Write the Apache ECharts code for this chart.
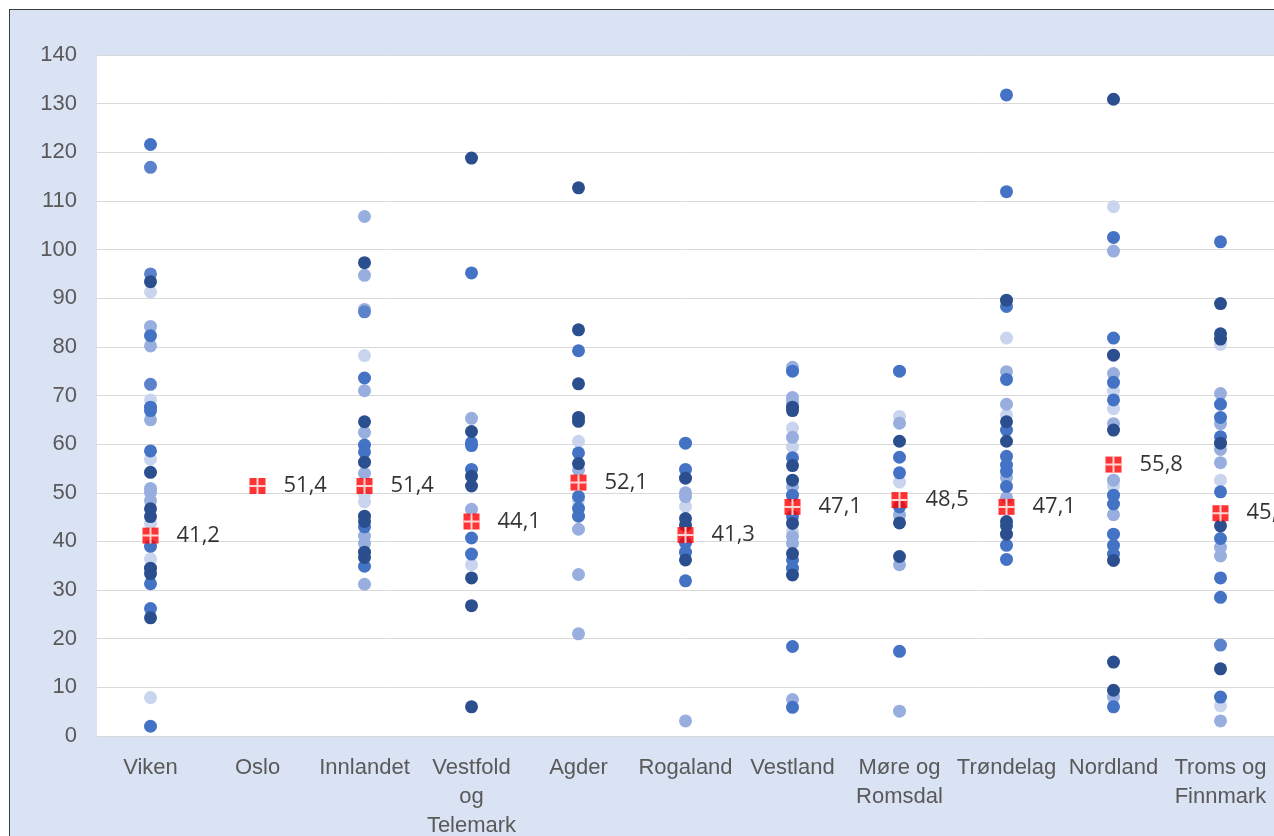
<!DOCTYPE html>
<html><head><meta charset="utf-8">
<script src="https://cdn.jsdelivr.net/npm/echarts@6/dist/echarts.min.js"></script>
<style>
html,body{margin:0;padding:0;background:#ffffff;width:1274px;height:836px;overflow:hidden;}
#frame{position:absolute;left:9px;top:9px;width:1280px;height:840px;border:1.5px solid #3a3a3a;background:#dae3f3;}
#chart{position:absolute;left:0;top:0;width:1274px;height:836px;}
</style></head>
<body><div id="frame"></div><div id="chart"></div>
<script>
const categories = ["Viken","Oslo","Innlandet","Vestfold og Telemark","Agder","Rogaland","Vestland","Møre og Romsdal","Trøndelag","Nordland","Troms og Finnmark"];
const categoryLabels = ["Viken","Oslo","Innlandet","Vestfold\nog\nTelemark","Agder","Rogaland","Vestland","Møre og\nRomsdal","Trøndelag","Nordland","Troms og\nFinnmark"];
const yTicks = [0,10,20,30,40,50,60,70,80,90,100,110,120,130,140];
const averages = [41.2, 51.4, 51.4, 44.1, 52.1, 41.3, 47.1, 48.5, 47.1, 55.8, 45.8];

// municipalities grouped by shade: [category, value]
const faintPoints = [
 ["Viken",91.3],["Viken",69.1],["Viken",56.9],["Viken",43.7],["Viken",36.4],["Viken",7.9],
 ["Innlandet",78.2],["Innlandet",49.6],["Innlandet",48.1],
 ["Vestfold og Telemark",35.2],
 ["Agder",60.6],["Agder",48.4],
 ["Rogaland",47.2],
 ["Vestland",63.3],["Vestland",59.4],["Vestland",42.0],
 ["Møre og Romsdal",65.7],["Møre og Romsdal",52.2],
 ["Trøndelag",81.8],["Trøndelag",66.0],
 ["Nordland",108.8],["Nordland",70.9],["Nordland",67.3],["Nordland",51.3],
 ["Troms og Finnmark",80.5],["Troms og Finnmark",52.6],["Troms og Finnmark",6.2]
];
const palePoints = [
 ["Viken",84.2],["Viken",80.2],["Viken",65.0],["Viken",50.9],["Viken",50.1],["Viken",48.4],
 ["Innlandet",106.8],["Innlandet",94.7],["Innlandet",87.7],["Innlandet",71.0],["Innlandet",62.4],["Innlandet",54.0],["Innlandet",41.1],["Innlandet",39.6],["Innlandet",31.2],
 ["Vestfold og Telemark",65.3],["Vestfold og Telemark",46.6],
 ["Agder",54.7],["Agder",42.5],["Agder",33.2],["Agder",21.0],
 ["Rogaland",50.0],["Rogaland",49.2],["Rogaland",3.1],
 ["Vestland",75.8],["Vestland",69.6],["Vestland",68.6],["Vestland",61.4],["Vestland",51.2],["Vestland",41.0],["Vestland",39.6],["Vestland",7.5],
 ["Møre og Romsdal",64.3],["Møre og Romsdal",45.4],["Møre og Romsdal",35.2],["Møre og Romsdal",5.1],
 ["Trøndelag",74.9],["Trøndelag",68.2],["Trøndelag",53.1],["Trøndelag",49.0],
 ["Nordland",99.7],["Nordland",74.5],["Nordland",64.2],["Nordland",52.6],["Nordland",45.5],["Nordland",8.0],
 ["Troms og Finnmark",70.4],["Troms og Finnmark",64.2],["Troms og Finnmark",58.9],["Troms og Finnmark",56.2],["Troms og Finnmark",38.8],["Troms og Finnmark",37.0],["Troms og Finnmark",3.1]
];
const lightPoints = [
 ["Viken",116.9],["Viken",95.0],["Viken",72.3],
 ["Innlandet",87.2],
 ["Troms og Finnmark",18.7]
];
const midPoints = [
 ["Viken",121.6],["Viken",82.3],["Viken",67.6],["Viken",66.9],["Viken",58.6],["Viken",39.0],["Viken",31.3],["Viken",26.2],["Viken",2.0],
 ["Innlandet",73.6],["Innlandet",59.8],["Innlandet",58.4],["Innlandet",43.0],["Innlandet",34.9],
 ["Vestfold og Telemark",95.2],["Vestfold og Telemark",60.3],["Vestfold og Telemark",59.7],["Vestfold og Telemark",54.8],["Vestfold og Telemark",40.7],["Vestfold og Telemark",37.4],
 ["Agder",79.2],["Agder",58.2],["Agder",49.2],["Agder",46.8],["Agder",45.2],
 ["Rogaland",60.2],["Rogaland",54.8],["Rogaland",39.7],["Rogaland",37.8],["Rogaland",31.9],
 ["Vestland",75.0],["Vestland",57.2],["Vestland",49.5],["Vestland",45.1],["Vestland",36.2],["Vestland",34.5],["Vestland",18.4],["Vestland",5.9],
 ["Møre og Romsdal",75.0],["Møre og Romsdal",57.3],["Møre og Romsdal",54.1],["Møre og Romsdal",47.1],["Møre og Romsdal",17.4],
 ["Trøndelag",131.8],["Trøndelag",111.9],["Trøndelag",88.3],["Trøndelag",73.3],["Trøndelag",62.9],["Trøndelag",57.5],["Trøndelag",55.7],["Trøndelag",54.4],["Trøndelag",51.3],["Trøndelag",39.2],["Trøndelag",36.3],
 ["Nordland",102.5],["Nordland",81.8],["Nordland",72.7],["Nordland",69.1],["Nordland",49.5],["Nordland",47.7],["Nordland",41.5],["Nordland",39.2],["Nordland",37.4],["Nordland",6.0],
 ["Troms og Finnmark",101.6],["Troms og Finnmark",68.2],["Troms og Finnmark",65.5],["Troms og Finnmark",61.5],["Troms og Finnmark",50.2],["Troms og Finnmark",40.6],["Troms og Finnmark",32.5],["Troms og Finnmark",28.5],["Troms og Finnmark",8.0]
];
const darkPoints = [
 ["Viken",93.4],["Viken",54.2],["Viken",46.7],["Viken",45.1],["Viken",34.5],["Viken",33.4],["Viken",24.3],
 ["Innlandet",97.3],["Innlandet",64.6],["Innlandet",56.3],["Innlandet",45.2],["Innlandet",44.1],["Innlandet",37.8],["Innlandet",36.7],
 ["Vestfold og Telemark",118.8],["Vestfold og Telemark",62.6],["Vestfold og Telemark",53.4],["Vestfold og Telemark",51.4],["Vestfold og Telemark",32.5],["Vestfold og Telemark",26.8],["Vestfold og Telemark",6.0],
 ["Agder",112.7],["Agder",83.5],["Agder",72.4],["Agder",65.5],["Agder",64.7],["Agder",56.0],
 ["Rogaland",53.0],["Rogaland",44.7],["Rogaland",43.3],["Rogaland",36.2],
 ["Vestland",67.6],["Vestland",66.9],["Vestland",55.6],["Vestland",52.6],["Vestland",43.7],["Vestland",37.5],["Vestland",33.1],
 ["Møre og Romsdal",60.6],["Møre og Romsdal",43.8],["Møre og Romsdal",36.9],
 ["Trøndelag",89.6],["Trøndelag",64.6],["Trøndelag",60.6],["Trøndelag",44.1],["Trøndelag",43.2],["Trøndelag",41.5],
 ["Nordland",130.9],["Nordland",78.3],["Nordland",62.9],["Nordland",36.1],["Nordland",15.2],["Nordland",9.4],
 ["Troms og Finnmark",88.9],["Troms og Finnmark",82.7],["Troms og Finnmark",81.6],["Troms og Finnmark",60.2],["Troms og Finnmark",43.2],["Troms og Finnmark",13.8]
];

const dotSeries = (data, color) => ({
  type:'scatter', data: data, symbol:'circle', symbolSize:13,
  itemStyle:{color: color, opacity:1}, silent:true, z:2
});

const chart = echarts.init(document.getElementById('chart'), null, {renderer:'canvas'});
chart.setOption({
  animation:false,
  backgroundColor:'transparent',
  grid:{left:97, top:55, right:0, bottom:100, show:true, backgroundColor:'#ffffff', borderWidth:0,
        containLabel:false, outerBoundsMode:'none'},
  xAxis:{
    type:'category', data: categories, boundaryGap:true,
    axisLine:{show:true, lineStyle:{color:'#d9d9d9', width:1}},
    axisTick:{show:false},
    axisLabel:{
      interval:0, margin:17, color:'#595959', fontFamily:'Liberation Sans', fontSize:22, lineHeight:29,
      formatter:(v, i) => categoryLabels[i]
    },
    splitLine:{show:false}
  },
  yAxis:{
    type:'value', min:yTicks[0], max:yTicks[yTicks.length-1], interval:10,
    axisLine:{show:false}, axisTick:{show:false},
    axisLabel:{margin:20, color:'#595959', fontFamily:'Liberation Sans', fontSize:22},
    splitLine:{show:true, lineStyle:{color:'#d9d9d9', width:1}}
  },
  series:[
    dotSeries(faintPoints, '#c9d5ee'),
    dotSeries(palePoints, '#98aedf'),
    dotSeries(lightPoints, '#5c82cc'),
    dotSeries(midPoints, '#4472c4'),
    dotSeries(darkPoints, '#2b4f8e'),
    {
      type:'scatter', data: categories.map((c,i)=>[c, averages[i]]), symbol:'rect', symbolSize:16,
      itemStyle:{color:'#ff0000'}, z:5,
      label:{show:true, position:'right', distance:18, color:'#000000', fontFamily:'Open Sans', fontSize:22,
        formatter:(p)=> String(p.value[1].toFixed(1)).replace('.', ',')}
    },
    {
      type:'scatter', data: categories.map((c,i)=>[c, averages[i]]),
      symbol:'path://M7,0h2v16h-2z M0,7h16v2h-16z', symbolSize:16, symbolKeepAspect:true,
      itemStyle:{color:'#ffffff'}, z:6, silent:true
    }
  ]
});
</script>
</body></html>
